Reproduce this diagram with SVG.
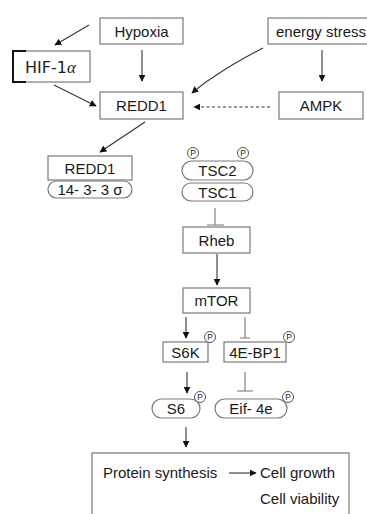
<svg xmlns="http://www.w3.org/2000/svg" width="367" height="514" viewBox="0 0 367 514">
<style>
.box{fill:#fff;stroke:#7a7a7a;stroke-width:1.2}
.t{font-family:"Liberation Sans",Arial,sans-serif;font-size:15px;fill:#1a1a1a;text-anchor:middle}
.tl{font-family:"Liberation Sans",Arial,sans-serif;font-size:15px;fill:#1a1a1a}
.p{fill:#fff;stroke:#555;stroke-width:1}
.pt{font-family:"Liberation Sans",Arial,sans-serif;font-size:8.5px;fill:#222;text-anchor:middle}
.ar{fill:none;stroke:#333;stroke-width:1.1;marker-end:url(#ah)}
.inh{fill:none;stroke:#777;stroke-width:1.1}
</style>
<defs>
<marker id="ah" viewBox="0 0 10 10" refX="9" refY="5" markerWidth="7" markerHeight="7" orient="auto" markerUnits="userSpaceOnUse">
<path d="M0,0 L10,5 L0,10 z" fill="#111"/>
</marker>
</defs>
<rect width="367" height="514" fill="#fff"/>
<g id="hypoxia"><rect class="box" x="100" y="18" width="83" height="26"/><text class="t" x="141.5" y="36.5">Hypoxia</text></g>
<g id="energy-stress"><rect class="box" x="268" y="18" width="110" height="26"/><text class="tl" x="276" y="36.5">energy stress</text></g>
<g id="hif1a"><rect class="box" x="13" y="51" width="77" height="31"/><path d="M26,51 H13 V82 H26" fill="none" stroke="#111" stroke-width="2"/><text x="25" y="73" font-family="'DejaVu Sans',sans-serif" font-size="16" fill="#222">HIF-1<tspan font-family="'Liberation Serif',serif" font-style="italic" font-size="17">α</tspan></text></g>
<g id="redd1"><rect class="box" x="100" y="92" width="83" height="27"/><text class="t" x="141.5" y="111">REDD1</text></g>
<g id="ampk"><rect class="box" x="279" y="92" width="84" height="27"/><text class="t" x="321" y="111">AMPK</text></g>
<g id="redd1-complex"><rect class="box" x="48" y="156" width="84" height="24"/><text class="t" x="90" y="174">REDD1</text><rect class="box" x="48" y="181" width="84" height="17" rx="8.5"/><text class="t" x="90" y="195">14- 3- 3  σ</text></g>
<g id="tsc"><rect class="box" x="182" y="161" width="71" height="19" rx="9.5"/><text class="t" x="217.5" y="176">TSC2</text><rect class="box" x="182" y="183" width="71" height="18" rx="9"/><text class="t" x="217.5" y="198">TSC1</text><circle class="p" cx="193" cy="153" r="5.5"/><text class="pt" x="193" y="156">P</text><circle class="p" cx="243" cy="153" r="5.5"/><text class="pt" x="243" y="156">P</text></g>
<g id="rheb"><rect class="box" x="183" y="227" width="67" height="26"/><text class="t" x="216.5" y="245.5">Rheb</text></g>
<g id="mtor"><rect class="box" x="183" y="288" width="67" height="25"/><text class="t" x="216.5" y="306">mTOR</text></g>
<g id="s6k"><rect class="box" x="163" y="342" width="45" height="20"/><text class="t" x="185.5" y="357.5">S6K</text><circle class="p" cx="210" cy="337" r="5.5"/><text class="pt" x="210" y="340">P</text></g>
<g id="4ebp1"><rect class="box" x="224" y="342" width="62" height="20"/><text class="t" x="255" y="357.5">4E-BP1</text><circle class="p" cx="289" cy="337" r="5.5"/><text class="pt" x="289" y="340">P</text></g>
<g id="s6"><rect class="box" x="152" y="399" width="48" height="19" rx="9.5"/><text class="t" x="176" y="414">S6</text><circle class="p" cx="200" cy="397" r="5.5"/><text class="pt" x="200" y="400">P</text></g>
<g id="eif4e"><rect class="box" x="215" y="399" width="72" height="19" rx="9.5"/><text class="t" x="251" y="414">Eif- 4e</text><circle class="p" cx="288" cy="397" r="5.5"/><text class="pt" x="288" y="400">P</text></g>
<g id="outcome"><rect class="box" x="92" y="453" width="257" height="70"/><text class="tl" x="103" y="478">Protein synthesis</text><text class="tl" x="260" y="478">Cell growth</text><text class="tl" x="260" y="504">Cell viability</text></g>
<g id="connectors">
<line class="ar" x1="89" y1="25" x2="55" y2="45"/>
<line class="ar" x1="54" y1="85" x2="96" y2="106"/>
<line class="ar" x1="142" y1="50" x2="142" y2="81"/>
<line class="ar" x1="322" y1="50" x2="322" y2="81"/>
<path class="ar" d="M263,48 C240,60 230,66 218,74 C208,80 200,86 192,93"/>
<line class="ar" x1="270" y1="107" x2="194" y2="107" stroke-dasharray="3,2.5"/>
<line class="ar" x1="145" y1="122" x2="100" y2="152"/>
<path class="inh" d="M215,208 V225 M207,225 H224"/>
<line class="ar" x1="217" y1="254" x2="217" y2="285"/>
<line class="ar" x1="186" y1="317" x2="186" y2="338"/>
<path class="inh" d="M245,317 V338 M240,338 H250"/>
<line class="ar" x1="187" y1="372" x2="187" y2="393"/>
<path class="inh" d="M245,372 V391 M237,391 H253"/>
<line class="ar" x1="186" y1="427" x2="186" y2="447"/>
<line class="ar" x1="229" y1="473" x2="256" y2="473"/>
</g>
</svg>
